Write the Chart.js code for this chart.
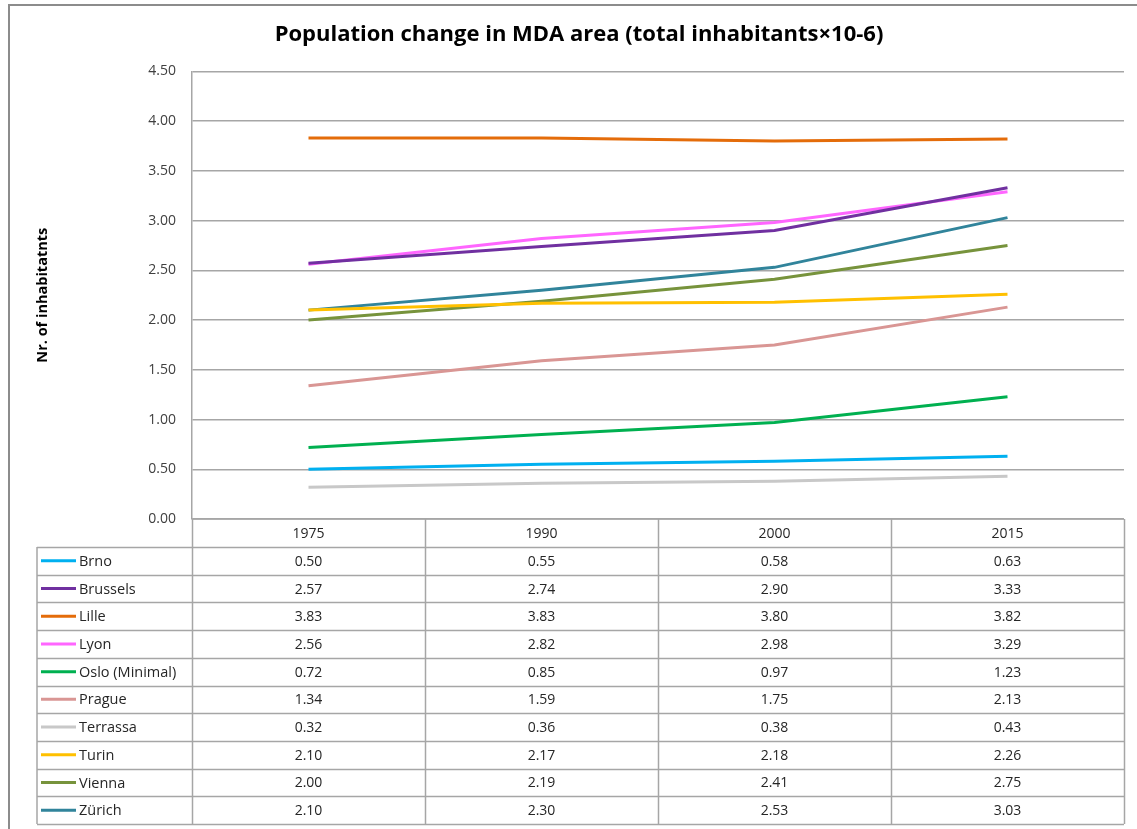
<!DOCTYPE html>
<html>
<head>
<meta charset="utf-8">
<script src="https://cdn.jsdelivr.net/npm/chart.js@4.4.0/dist/chart.umd.min.js"></script>
<style>
  html, body { margin: 0; padding: 0; background: #fff; }
  #wrap { position: relative; width: 1137px; height: 829px; }
  #frame { position: absolute; left: 8px; top: 4px; right: -2px; bottom: -2px; border-left: 2px solid #8c8c8c; border-top: 2px solid #8c8c8c; }
  canvas { position: absolute; left: 0; top: 0; }
</style>
</head>
<body>
<div id="wrap">
  <div id="frame"></div>
  <canvas id="myChart" width="1137" height="829"></canvas>
</div>
<script>
'use strict';

// years on the x axis
let years = ['1975', '1990', '2000', '2015'];

// one array per city (total inhabitants x 10-6)
let brno = [0.50, 0.55, 0.58, 0.63];
let brussels = [2.57, 2.74, 2.90, 3.33];
let lille = [3.83, 3.83, 3.80, 3.82];
let lyon = [2.56, 2.82, 2.98, 3.29];
let oslo = [0.72, 0.85, 0.97, 1.23];
let prague = [1.34, 1.59, 1.75, 2.13];
let terrassa = [0.32, 0.36, 0.38, 0.43];
let turin = [2.10, 2.17, 2.18, 2.26];
let vienna = [2.00, 2.19, 2.41, 2.75];
let zurich = [2.10, 2.30, 2.53, 3.03];

let cityNames = ['Brno', 'Brussels', 'Lille', 'Lyon', 'Oslo (Minimal)', 'Prague', 'Terrassa', 'Turin', 'Vienna', 'Zürich'];
let cityValues = [brno, brussels, lille, lyon, oslo, prague, terrassa, turin, vienna, zurich];
let cityColors = ['#00B0F0', '#7030A0', '#E46C0A', '#FF66FF', '#00B050', '#D99694', '#C8C8C8', '#FFC000', '#77933C', '#31849B'];

let yTicks = [0, 0.5, 1, 1.5, 2, 2.5, 3, 3.5, 4, 4.5];

const FONT = '"Open Sans", Lato, sans-serif';
const GRID = '#a6a6a6';

let datasets = [];
for (let i = 0; i < cityNames.length; i++) {
    datasets.push({
        label: cityNames[i],
        data: cityValues[i],
        borderColor: cityColors[i],
        backgroundColor: cityColors[i],
        borderWidth: 3,
        pointRadius: 0,
        tension: 0
    });
}

// data table under the plot, columns follow the x scale
const dataTable = {
    id: 'dataTable',
    afterDraw(chart) {
        let ctx = chart.ctx;
        let x = chart.scales.x;
        let area = chart.chartArea;
        let colW = (x.right - x.left) / years.length;
        let headTop = area.bottom;
        let headH = 28;
        let rowH = 27.7;
        let legendLeft = 37;
        let bodyTop = headTop + headH;
        let bodyBottom = bodyTop + rowH * cityNames.length;

        ctx.save();
        ctx.strokeStyle = GRID;
        ctx.lineWidth = 1.5;
        // horizontal lines
        ctx.beginPath();
        ctx.moveTo(x.left, headTop);
        ctx.lineTo(x.right, headTop);
        for (let r = 0; r <= cityNames.length; r++) {
            let yy = Math.round(bodyTop + r * rowH) + 0.5;
            ctx.moveTo(legendLeft, yy);
            ctx.lineTo(x.right, yy);
        }
        // vertical lines
        ctx.moveTo(legendLeft, bodyTop);
        ctx.lineTo(legendLeft, bodyBottom);
        for (let c = 0; c <= years.length; c++) {
            let xx = Math.round(x.left + c * colW) + 0.5;
            ctx.moveTo(xx, headTop);
            ctx.lineTo(xx, bodyBottom);
        }
        ctx.stroke();

        ctx.font = '14px ' + FONT;
        ctx.fillStyle = '#262626';
        ctx.textBaseline = 'middle';
        ctx.textAlign = 'center';
        for (let c = 0; c < years.length; c++) {
            let cx = x.getPixelForValue(c);
            ctx.fillText(years[c], cx, headTop + headH / 2 + 1);
            for (let r = 0; r < cityNames.length; r++) {
                ctx.fillText(cityValues[r][c].toFixed(2), cx, bodyTop + r * rowH + rowH / 2 + 1);
            }
        }
        // legend keys
        ctx.textAlign = 'left';
        ctx.font = '14.5px ' + FONT;
        for (let r = 0; r < cityNames.length; r++) {
            let cy = bodyTop + r * rowH + rowH / 2;
            ctx.strokeStyle = cityColors[r];
            ctx.lineWidth = 3;
            ctx.beginPath();
            ctx.moveTo(legendLeft + 4, cy);
            ctx.lineTo(legendLeft + 39, cy);
            ctx.stroke();
            ctx.fillText(cityNames[r], legendLeft + 42, cy + 1);
        }
        ctx.restore();
    }
};

let ctx = document.getElementById('myChart').getContext('2d');
let myChart = new Chart(ctx, {
    type: 'line',
    data: {
        labels: years,
        datasets: datasets
    },
    options: {
        responsive: false,
        animation: false,
        layout: {
            padding: { left: 34, right: 13, top: 0, bottom: 310 }
        },
        plugins: {
            legend: { display: false },
            tooltip: { enabled: false },
            title: {
                display: true,
                text: 'Population change in MDA area (total inhabitants×10-6)',
                color: '#000',
                font: { family: FONT, size: 22, weight: 'bold', lineHeight: 1.2 },
                padding: { top: 22, bottom: 23 }
            }
        },
        scales: {
            x: {
                display: false,
                offset: true
            },
            y: {
                min: 0,
                max: 4.5,
                afterBuildTicks(scale) {
                    scale.ticks = yTicks.map(v => ({ value: v }));
                },
                afterFit(scale) {
                    scale.width = 158;
                },
                ticks: {
                    color: '#404040',
                    font: { family: FONT, size: 14 },
                    padding: 16,
                    callback: v => Number(v).toFixed(2)
                },
                grid: { color: GRID, lineWidth: 1.5, drawTicks: false },
                border: { color: GRID, width: 1.5 },
                title: {
                    display: true,
                    text: 'Nr. of inhabitatnts',
                    color: '#000',
                    font: { family: FONT, size: 14.5, weight: 'bold' },
                    padding: 0
                }
            }
        }
    },
    plugins: [dataTable]
});
</script>
</body>
</html>
